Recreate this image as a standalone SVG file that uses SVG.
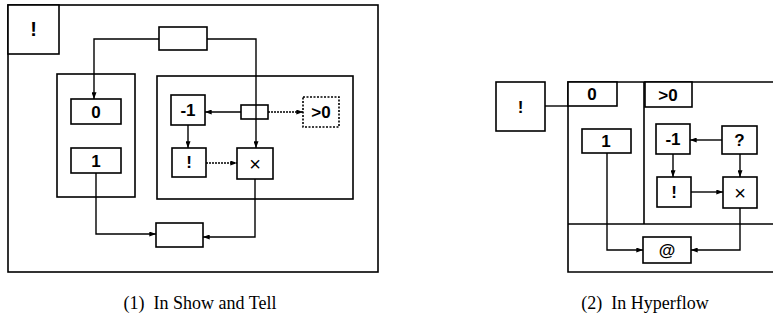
<svg xmlns="http://www.w3.org/2000/svg" width="773" height="320" viewBox="0 0 773 320">
<style>
.b{fill:#fff;stroke:#000;stroke-width:1.6}
.f{fill:none;stroke:#000;stroke-width:1.6}
.d{fill:none;stroke:#000;stroke-width:1.6;stroke-dasharray:2 1.5}
.c{fill:none;stroke:#000;stroke-width:1.4}
.cd{fill:none;stroke:#000;stroke-width:1.4;stroke-dasharray:2 1}
.t{font-family:"Liberation Sans",Arial,sans-serif;font-size:17px;font-weight:bold;text-anchor:middle;dominant-baseline:central}
.x{font-size:20px;font-weight:normal}
.cap{font-family:"Liberation Serif","Times New Roman",serif;font-size:18px;text-anchor:middle}
</style>
<defs>
<marker id="a" viewBox="0 0 8 6" refX="8" refY="3" markerWidth="7" markerHeight="5" markerUnits="userSpaceOnUse" orient="auto">
<path d="M0,0 L8,3 L0,6 Z" fill="#000"/>
</marker>
</defs>
<rect width="773" height="320" fill="#fff"/>

<g id="diagram1">
<rect id="frame1" class="f" x="8" y="5" width="370" height="267"/>
<g id="bang1"><rect class="b" x="8" y="5" width="51" height="49"/><text class="t" x="33.5" y="29" style="font-size:20px">!</text></g>
<rect id="left-container" class="f" x="57" y="74" width="78" height="123"/>
<rect id="right-container" class="f" x="157" y="76" width="196" height="123"/>
<g id="connectors1">
<path class="c" d="M159,39 H94 V99" marker-end="url(#a)"/>
<path class="c" d="M207,39 H256 V148" marker-end="url(#a)"/>
<path class="c" d="M241,112 H205" marker-end="url(#a)"/>
<path class="cd" d="M268,112 H303" marker-end="url(#a)"/>
<path class="c" d="M188,125 V148" marker-end="url(#a)"/>
<path class="cd" d="M206,163 H237" marker-end="url(#a)"/>
<path class="c" d="M96,173 V234 H156" marker-end="url(#a)"/>
<path class="c" d="M255,179 V237 H203" marker-end="url(#a)"/>
</g>
<g id="top-box"><rect class="b" x="159" y="27" width="48" height="23"/></g>
<g id="zero1"><rect class="b" x="71" y="99" width="50" height="25"/><text class="t" x="96" y="112">0</text></g>
<g id="one1"><rect class="b" x="71" y="148" width="50" height="25"/><text class="t" x="96" y="161">1</text></g>
<g id="minus1"><rect class="b" x="171" y="95" width="34" height="30"/><text class="t" x="188" y="110">-1</text></g>
<g id="small-box"><rect class="b" x="241" y="105" width="27" height="14"/><line class="c" x1="256" y1="105" x2="256" y2="119"/></g>
<g id="gt0-1"><rect class="d" x="303" y="97" width="36" height="30" fill="#fff"/><text class="t" x="321" y="112">&gt;0</text></g>
<g id="bang1b"><rect class="b" x="172" y="148" width="34" height="29"/><text class="t" x="189" y="162">!</text></g>
<g id="times1"><rect class="b" x="237" y="148" width="36" height="31"/><text class="t x" x="255" y="164">×</text></g>
<g id="bottom-box"><rect class="b" x="156" y="223" width="47" height="24"/></g>
<text class="cap" x="200" y="309">(1)&#160; In Show and Tell</text>
</g>

<g id="diagram2">
<path class="f" d="M773,82 H568 V272 H773"/>
<path class="f" d="M644,82 V224"/>
<path class="f" d="M568,224 H773"/>
<g id="connectors2">
<path class="c" d="M545,106 H568"/>
<path class="c" d="M722,140 H690" marker-end="url(#a)"/>
<path class="c" d="M673,154 V177" marker-end="url(#a)"/>
<path class="c" d="M740,154 V177" marker-end="url(#a)"/>
<path class="c" d="M691,192 H723" marker-end="url(#a)"/>
<path class="c" d="M607,153 V250 H643" marker-end="url(#a)"/>
<path class="c" d="M740,208 V250 H691" marker-end="url(#a)"/>
</g>
<g id="bang2"><rect class="b" x="496" y="82" width="49" height="49"/><text class="t" x="520.5" y="107">!</text></g>
<g id="tab0"><rect class="b" x="568" y="82" width="49" height="24"/><text class="t" x="592" y="94">0</text></g>
<g id="tabgt0"><rect class="b" x="645" y="82" width="47" height="25"/><text class="t" x="668" y="95">&gt;0</text></g>
<g id="one2"><rect class="b" x="582" y="129" width="49" height="24"/><text class="t" x="606" y="141">1</text></g>
<g id="minus2"><rect class="b" x="656" y="124" width="34" height="30"/><text class="t" x="673" y="139">-1</text></g>
<g id="q2"><rect class="b" x="722" y="126" width="35" height="28"/><text class="t" x="739.5" y="140">?</text></g>
<g id="bang2b"><rect class="b" x="657" y="177" width="34" height="30"/><text class="t" x="674" y="192">!</text></g>
<g id="times2"><rect class="b" x="723" y="177" width="34" height="31"/><text class="t x" x="740" y="193">×</text></g>
<g id="at2"><rect class="b" x="643" y="237" width="48" height="26"/><text class="t" x="667" y="250">@</text></g>
<text class="cap" x="645" y="309">(2)&#160; In Hyperflow</text>
</g>
</svg>
